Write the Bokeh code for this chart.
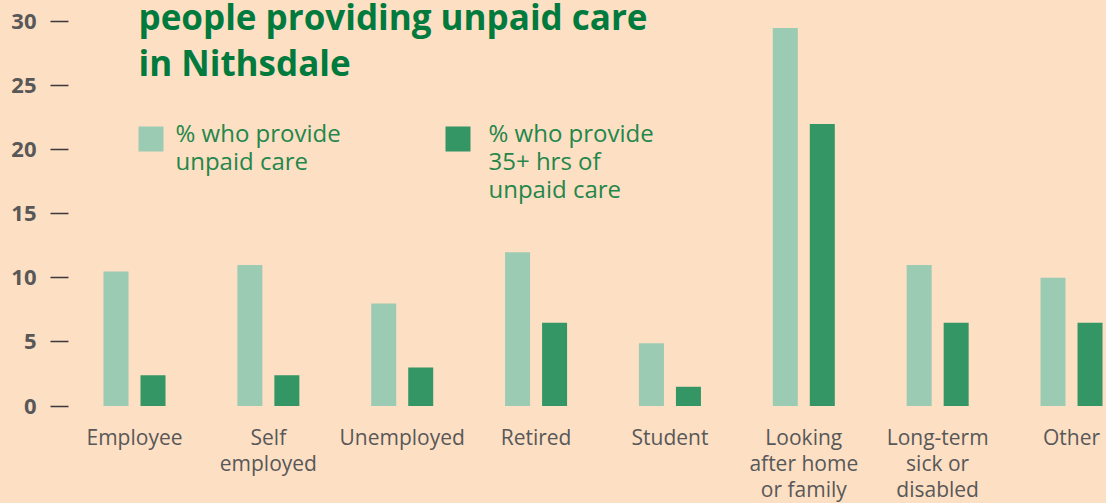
from bokeh.plotting import figure
from bokeh.models import ColumnDataSource, FixedTicker, Label, BoxAnnotation
from bokeh.transform import dodge
from bokeh.core.properties import value
from bokeh.embed import file_html
from bokeh.resources import INLINE

# ---- data ----
categories = ["Employee", "Self\nemployed", "Unemployed", "Retired", "Student",
              "Looking\nafter home\nor family", "Long-term\nsick or\ndisabled", "Other"]
pct_unpaid_care = [10.5, 11, 8, 12, 4.9, 29.5, 11, 10]
pct_35plus_hrs = [2.4, 2.4, 3, 6.5, 1.5, 22, 6.5, 6.5]
y_ticks = [0, 5, 10, 15, 20, 25, 30]
title_lines = ["people providing unpaid care", "in Nithsdale"]
legend_light = ["% who provide", "unpaid care"]
legend_dark = ["% who provide", "35+ hrs of", "unpaid care"]

# ---- style ----
BG = "#FDDFC4"
LIGHT = "#9BCBB2"
DARK = "#339664"
TITLE_C = "#007A3D"
LEG_C = "#23874B"
GRAY = "#585858"
FONT = "Open Sans"

W, H = 1106, 503
X0, XSTEP = 134.0, 133.86
Y0, YPX = 405.5, 12.817
LEFT = 68
SHIFT = -11  # baseline correction for labels


def dx(px):
    return (px - X0) / XSTEP


def dy(py):
    return (Y0 - py) / YPX


src = ColumnDataSource(dict(idx=list(range(len(categories))), label=categories,
                            care=pct_unpaid_care, care35=pct_35plus_hrs))

p = figure(width=W, height=H, output_backend="svg", toolbar_location=None,
           x_axis_type=None, x_range=(dx(LEFT), dx(W)), y_range=(dy(H), dy(0)),
           min_border_left=LEFT, min_border_right=0, min_border_top=0, min_border_bottom=0)
p.background_fill_color = BG
p.border_fill_color = BG
p.styles = {"background-color": BG}
p.outline_line_color = None
p.grid.visible = False

ax = p.yaxis[0]
ax.ticker = FixedTicker(ticks=y_ticks)
ax.axis_line_color = None
ax.major_tick_in = 0
ax.major_tick_out = 18
ax.major_tick_line_color = "#3a3a3a"
ax.major_tick_line_width = 1.5
ax.minor_tick_line_color = None
ax.major_label_standoff = 14
ax.major_label_text_font = FONT
ax.major_label_text_font_style = "bold"
ax.major_label_text_font_size = "22px"
ax.major_label_text_color = GRAY

bw = 25 / XSTEP
off = 18.5 / XSTEP
p.vbar(x=dodge("idx", -off, range=p.x_range), top="care", bottom=0, width=bw,
       source=src, fill_color=LIGHT, line_color=None)
p.vbar(x=dodge("idx", off, range=p.x_range), top="care35", bottom=0, width=bw,
       source=src, fill_color=DARK, line_color=None)

p.text(x="idx", y=0, text="label", source=src, text_align="center",
       text_baseline="top", y_offset=17, text_font=value(FONT),
       text_font_size="21px", text_color=GRAY, text_line_height=0.93)

# title
for i, t in enumerate(title_lines):
    p.add_layout(Label(x=dx(138), y=dy(27 + 46 * i + SHIFT), text=t, text_font=FONT,
                       text_font_size="35px", text_font_style="bold",
                       text_color=TITLE_C, text_baseline="alphabetic"))

# legend
p.add_layout(BoxAnnotation(left=dx(138), right=dx(163), top=dy(126), bottom=dy(151),
                           fill_color=LIGHT, fill_alpha=1, line_color=None))
p.add_layout(BoxAnnotation(left=dx(445), right=dx(470), top=dy(126), bottom=dy(151),
                           fill_color=DARK, fill_alpha=1, line_color=None))
for i, t in enumerate(legend_light):
    p.add_layout(Label(x=dx(175), y=dy(143 + 27.5 * i + SHIFT), text=t, text_font=FONT,
                       text_font_size="24px", text_color=LEG_C, text_baseline="alphabetic"))
for i, t in enumerate(legend_dark):
    p.add_layout(Label(x=dx(488), y=dy(143 + 28 * i + SHIFT), text=t, text_font=FONT,
                       text_font_size="24px", text_color=LEG_C, text_baseline="alphabetic"))

open("out.html", "w").write(file_html(p, INLINE))
